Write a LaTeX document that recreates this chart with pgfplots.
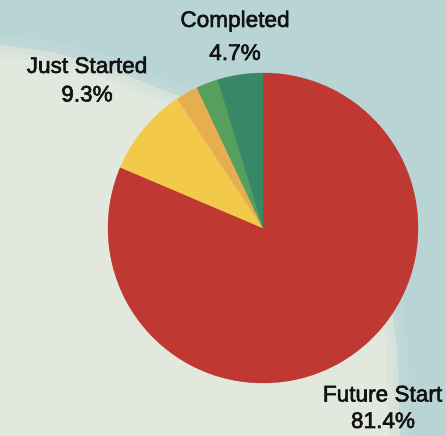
\documentclass[border=0pt]{standalone}
\usepackage{pgfplots}
\pgfplotsset{compat=1.18}
\usepackage{pgfplotstable}
\usepackage{fontspec}
\setmainfont{Liberation Sans}
\newfontfamily\lblfont{Liberation Sans}[FakeBold=2.6]
\definecolor{bgTeal}{HTML}{B8D4D5}
\definecolor{bgLight}{HTML}{E3E8DE}
\definecolor{cRed}{HTML}{BF3831}
\definecolor{cYellow}{HTML}{F2C94B}
\definecolor{cOrange}{HTML}{E6AD51}
\definecolor{cGreen}{HTML}{56A05E}
\definecolor{cTeal}{HTML}{388767}
\definecolor{txt}{HTML}{121212}

\pgfplotstableread{
value
81.4
9.3
2.3
2.3
4.7
}\piedata

\begin{document}
\begin{tikzpicture}[x=1bp,y=1bp]
\useasboundingbox (0,0) rectangle (446,436);
% background
\fill[bgTeal] (0,0) rectangle (446,436);
\fill[bgLight] (0,0) -- (0,391) -- (50,384) -- (100,371) -- (150,351) -- (190,336) -- (300,250) -- (392,126) -- (397,90) -- (400,0) -- cycle;
\draw[bgTeal!55!bgLight, line width=22bp, opacity=0.3, line join=round]
  (-5,391) -- (50,384) -- (100,371) -- (150,351) -- (190,336) -- (300,250) -- (392,126) -- (397,90) -- (400,-5);
\draw[bgTeal!50!bgLight, line width=10bp, opacity=0.35, line join=round]
  (-5,391) -- (50,384) -- (100,371) -- (150,351) -- (190,336) -- (300,250) -- (392,126) -- (397,90) -- (400,-5);
% slice angles from the data
\pgfplotstablegetelem{0}{value}\of\piedata \pgfmathsetmacro\aA{90-3.6*\pgfplotsretval}
\pgfplotstablegetelem{1}{value}\of\piedata \pgfmathsetmacro\aB{\aA-3.6*\pgfplotsretval}
\pgfplotstablegetelem{2}{value}\of\piedata \pgfmathsetmacro\aC{\aB-3.6*\pgfplotsretval}
\pgfplotstablegetelem{3}{value}\of\piedata \pgfmathsetmacro\aD{\aC-3.6*\pgfplotsretval}
\pgfplotstablegetelem{4}{value}\of\piedata \pgfmathsetmacro\aE{\aD-3.6*\pgfplotsretval}
\begin{axis}[at={(108bp,53bp)}, anchor=south west, width=310bp, height=310bp,
  scale only axis, hide axis, xmin=-1, xmax=1, ymin=-1, ymax=1, clip=false]
\filldraw[cRed, line width=0.3bp] (axis cs:0,0) -- (axis cs:0,1) arc[start angle=90, end angle=\aA, radius=155bp] -- cycle;
\filldraw[cYellow, line width=0.3bp] (axis cs:0,0) -- (axis cs:{cos(\aA)},{sin(\aA)}) arc[start angle=\aA, end angle=\aB, radius=155bp] -- cycle;
\filldraw[cOrange, line width=0.3bp] (axis cs:0,0) -- (axis cs:{cos(\aB)},{sin(\aB)}) arc[start angle=\aB, end angle=\aC, radius=155bp] -- cycle;
\filldraw[cGreen, line width=0.3bp] (axis cs:0,0) -- (axis cs:{cos(\aC)},{sin(\aC)}) arc[start angle=\aC, end angle=\aD, radius=155bp] -- cycle;
\filldraw[cTeal, line width=0.3bp] (axis cs:0,0) -- (axis cs:{cos(\aD)},{sin(\aD)}) arc[start angle=\aD, end angle=\aE, radius=155bp] -- cycle;
\end{axis}
% labels
\tikzset{lbl/.style={anchor=base, text=txt, inner sep=0pt, font=\lblfont\fontsize{22.6bp}{26bp}\selectfont}}
\node[lbl] at (235,409) {Completed};
\node[lbl] at (235,376) {4.7\%};
\node[lbl] at (87,363) {Just Started};
\node[lbl] at (87,334.5) {9.3\%};
\node[lbl] at (382.5,34.5) {Future Start};
\node[lbl] at (383,8) {81.4\%};
\end{tikzpicture}
\end{document}
